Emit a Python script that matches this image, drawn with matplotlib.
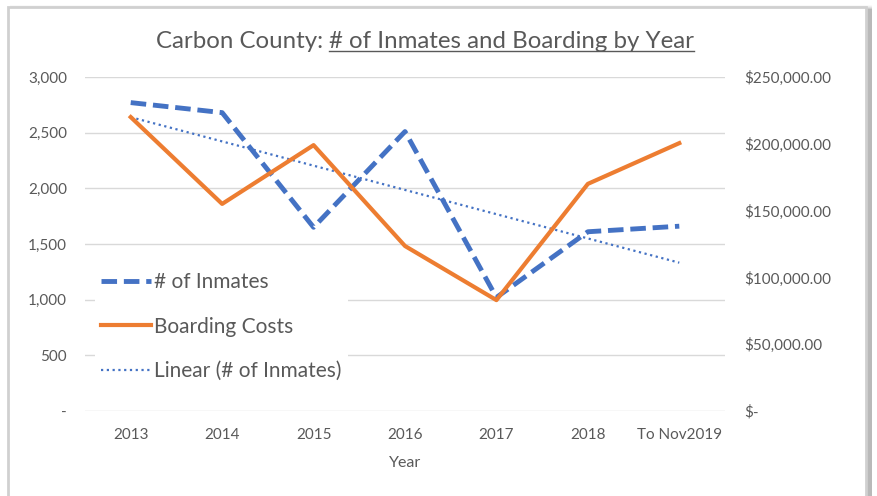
import matplotlib.pyplot as plt
import matplotlib.patches as patches
import numpy as np

years = ['2013', '2014', '2015', '2016', '2017', '2018', 'To Nov2019']
inmates = [2770, 2680, 1650, 2510, 1020, 1610, 1660]
boarding = [220000, 155000, 199000, 123500, 83000, 170000, 200500]

grey = '#595959'
blue = '#4472C4'
orange = '#ED7D31'
plt.rcParams['font.family'] = ['Lato', 'DejaVu Sans']

fig = plt.figure(figsize=(8.77, 4.96), dpi=100)
W, H = 877, 496

# chart frame with a soft shadow on top / right
for i, a in enumerate([0.05, 0.08, 0.12, 0.16, 0.2]):
    fig.patches.append(patches.Rectangle(((10 + i) / W, 0), (862 - i) / W, (491 - i) / H,
                                         transform=fig.transFigure, facecolor='black',
                                         alpha=a * 0.5, edgecolor='none', zorder=0))
fig.patches.append(patches.Rectangle((8 / W, -0.01), 858 / W, 489 / H + 0.01,
                                     transform=fig.transFigure, facecolor='white',
                                     edgecolor='#d0d0d0', linewidth=2, zorder=1))

ax = fig.add_axes([85 / W, 1 - 411 / H, 640 / W, 334 / H])
ax.set_zorder(3)
ax2 = ax.twinx()

x = np.arange(len(years))
ax.plot(x, inmates, color=blue, lw=3.5, dashes=(3.2, 1.4), label='# of Inmates', zorder=3)
ln_b, = ax2.plot(x, boarding, color=orange, lw=3, label='Boarding Costs', zorder=3)

# linear trendline of inmates
k, b = np.polyfit(x + 1, inmates, 1)
ax.plot(x, k * (x + 1) + b, color=blue, lw=1.6, linestyle=(0, (1, 1.6)),
        label='Linear (# of Inmates)', zorder=3)

ax.set_xlim(-0.5, len(years) - 0.5)
ax.set_ylim(0, 3000)
ax2.set_ylim(0, 250000)
ax.set_xticks(x)
ax.set_xticklabels(years)
ax.set_yticks(range(0, 3001, 500))
ax.set_yticklabels(['-'] + [f'{v:,}' for v in range(500, 3001, 500)])
ax2.set_yticks(range(0, 250001, 50000))
ax2.set_yticklabels(['$-'] + [f'${v:,.2f}' for v in range(50000, 250001, 50000)])
ax.grid(axis='y', color='#d9d9d9', lw=1)
ax.set_axisbelow(True)

for a in (ax, ax2):
    for s in a.spines.values():
        s.set_visible(False)
    a.tick_params(length=0, colors=grey, labelsize=11)
ax.tick_params(axis='y', pad=13)
ax.tick_params(axis='x', pad=12)
ax2.tick_params(axis='y', pad=14)
ax.set_xlabel('Year', color=grey, fontsize=11.5, labelpad=10)
ax.patch.set_visible(False)

h1, l1 = ax.get_legend_handles_labels()
handles = [h1[0], ln_b, h1[1]]
labels = [l1[0], 'Boarding Costs', l1[1]]
leg = ax.legend(handles, labels, loc='upper left', bbox_to_anchor=(95 / W, 1 - 266 / H),
                bbox_transform=fig.transFigure, fontsize=15, frameon=True,
                handlelength=2.4, handletextpad=0.15, labelspacing=1.17,
                borderpad=0.3, borderaxespad=0)
leg.get_frame().set_edgecolor('none')
leg.get_frame().set_facecolor('white')
leg.get_frame().set_alpha(1)
for t in leg.get_texts():
    t.set_color(grey)

# title with underlined part, centred over the chart
fig.canvas.draw()
r = fig.canvas.get_renderer()
ty = 1 - 41 / H
t1 = fig.text(0, ty, 'Carbon County: ', fontsize=17.3, color=grey, va='center', ha='left')
t2 = fig.text(0, ty, '# of Inmates and Boarding by Year', fontsize=17.3, color=grey,
              va='center', ha='left')
w1 = t1.get_window_extent(r).width
w2 = t2.get_window_extent(r).width
x0 = 425 - (w1 + w2) / 2
t1.set_x(x0 / W)
t2.set_x((x0 + w1) / W)
bb2 = t2.get_window_extent(r)
uy = (bb2.y0 + 1) / H
fig.add_artist(plt.Line2D([bb2.x0 / W, bb2.x1 / W], [uy, uy], transform=fig.transFigure,
                          color=grey, lw=1))

fig.savefig('out.png', dpi=100)
